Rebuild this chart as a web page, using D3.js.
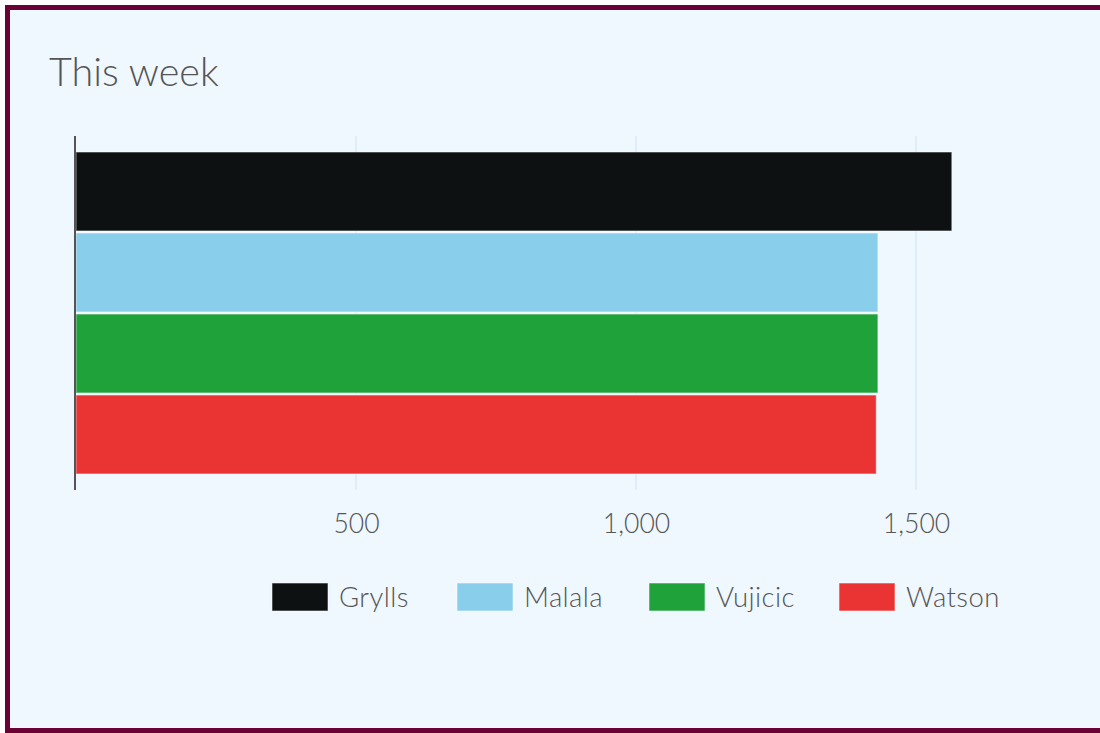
<!DOCTYPE html>
<html>
<head>
<meta charset="utf-8">
<script src="https://d3js.org/d3.v7.min.js"></script>
<style>
  html, body { margin: 0; padding: 0; background: #ffffff; }
  svg { display: block; }
</style>
</head>
<body>
<svg id="chart" width="1100" height="733"></svg>
<script>
const title = "This week";
const seriesNames = ["Grylls", "Malala", "Vujicic", "Watson"];
const seriesValues = [1564, 1432, 1432, 1429];
const seriesColors = ["#0d1112", "#89ceeb", "#1fa23a", "#ea3333"];
const tickValues = [500, 1000, 1500];

const svg = d3.select("#chart");
const W = 1100, H = 733;

// frame
svg.append("rect").attr("x", 7.5).attr("y", 7.5).attr("width", W + 10).attr("height", H - 10)
  .attr("fill", "#eff7ff").attr("stroke", "#6b0236").attr("stroke-width", 5);

svg.append("text").attr("x", 49).attr("y", 86)
  .attr("font-family", "Lato").attr("font-weight", 300).attr("font-size", 39.5)
  .attr("fill", "#555").text(title);

const x = d3.scaleLinear().domain([0, 1750]).range([76, 76 + 1750 * 0.56]);
const yTop = 136, yBot = 490;
const y = d3.scaleBand().domain(seriesNames).range([yTop + 16, yBot - 16]).paddingInner(0.025);

// gridlines
svg.append("g").selectAll("line").data(tickValues).join("line")
  .attr("x1", d => x(d)).attr("x2", d => x(d))
  .attr("y1", yTop).attr("y2", yBot)
  .attr("stroke", "#dbe9f7").attr("stroke-width", 1.5);

// bars
svg.append("g").selectAll("rect").data(seriesNames).join("rect")
  .attr("x", x(0))
  .attr("y", d => y(d))
  .attr("width", (d, i) => x(seriesValues[i]) - x(0))
  .attr("height", y.bandwidth())
  .attr("fill", (d, i) => seriesColors[i])
  .attr("stroke", "rgba(255,255,255,0.55)").attr("stroke-width", 1);

// axis line
svg.append("line").attr("x1", 75).attr("x2", 75).attr("y1", yTop).attr("y2", yBot)
  .attr("stroke", "#555").attr("stroke-width", 2);

// tick labels
const fmt = d3.format(",");
const axis = d3.axisBottom(x).tickValues(tickValues).tickFormat(fmt).tickSize(0).tickPadding(0);
const ag = svg.append("g").attr("transform", `translate(0, ${yBot})`).call(axis);
ag.select(".domain").remove();
ag.selectAll("text").attr("font-family", "Lato").attr("font-weight", 300).attr("font-size", 26.5)
  .attr("fill", "#555").attr("y", 43).attr("dy", null);

// legend
const legendX = [272, 457, 649, 839];
const lg = svg.append("g").selectAll("g").data(seriesNames).join("g")
  .attr("transform", (d, i) => `translate(${legendX[i]}, 583)`);
lg.append("rect").attr("width", 56).attr("height", 28)
  .attr("fill", (d, i) => seriesColors[i])
  .attr("stroke", "rgba(255,255,255,0.55)").attr("stroke-width", 1);
lg.append("text").attr("x", 67).attr("y", 24)
  .attr("font-family", "Lato").attr("font-weight", 300).attr("font-size", 27.5).attr("fill", "#555")
  .attr("letter-spacing", 0.4)
  .text(d => d);
</script>
</body>
</html>
